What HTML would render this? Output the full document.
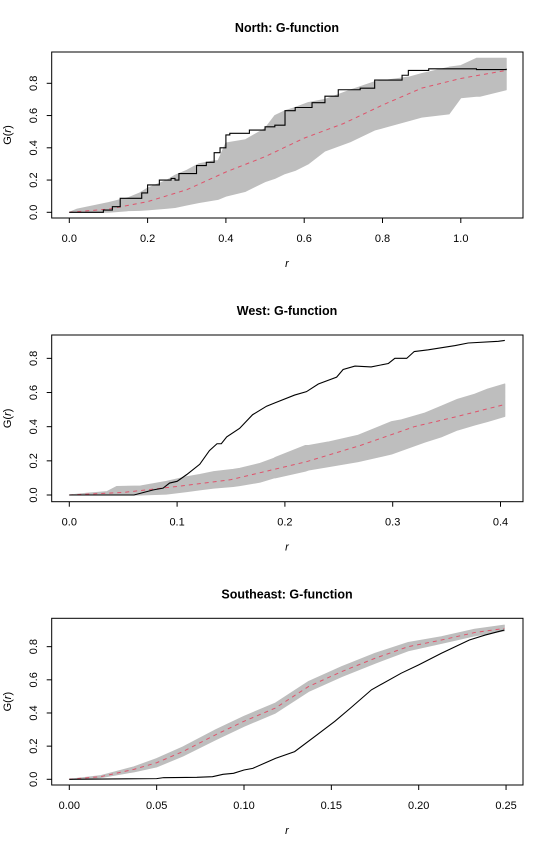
<!DOCTYPE html>
<html><head><meta charset="utf-8"><style>
html,body{margin:0;padding:0;background:#fff;}
svg{display:block;font-family:"Liberation Sans",Arial,sans-serif;}
</style></head><body>
<svg id="chart" width="550" height="850" viewBox="0 0 550 850" xmlns="http://www.w3.org/2000/svg"></svg>
<script>
// ---- North panel data ----
const northObsR = [0,0.087,0.11,0.13,0.17,0.185,0.2,0.22,0.23,0.25,0.26,0.27,0.28,0.31,0.325,0.35,0.37,0.385,0.40,0.41,0.44,0.46,0.47,0.5,0.525,0.551,0.577,0.62,0.653,0.687,0.743,0.78,0.85,0.866,0.918,1.04,1.116];
const northObs  = [0,0.014,0.035,0.087,0.087,0.12,0.17,0.17,0.2,0.2,0.21,0.2,0.24,0.24,0.29,0.31,0.37,0.40,0.48,0.49,0.49,0.51,0.51,0.53,0.54,0.63,0.65,0.68,0.72,0.76,0.77,0.82,0.85,0.88,0.89,0.885,0.89];
const northEnvR = [0,0.02,0.1,0.15,0.18,0.2,0.25,0.27,0.3,0.33,0.37,0.38,0.40,0.45,0.5,0.525,0.551,0.577,0.61,0.653,0.72,0.78,0.87,0.9,0.97,1.0,1.04,1.05,1.116];
const northLo   = [0,0,0,0.01,0.012,0.015,0.025,0.03,0.045,0.06,0.076,0.08,0.1,0.13,0.19,0.21,0.24,0.26,0.3,0.38,0.44,0.51,0.57,0.59,0.61,0.71,0.72,0.72,0.76];
const northHi   = [0,0.02,0.06,0.09,0.12,0.15,0.2,0.23,0.26,0.30,0.32,0.32,0.43,0.45,0.52,0.60,0.63,0.65,0.68,0.70,0.76,0.81,0.84,0.86,0.90,0.91,0.955,0.955,0.955];
const northTheoR = [0,0.1,0.2,0.3,0.4,0.5,0.6,0.7,0.8,0.9,1.0,1.116];
const northTheo  = [0,0.02,0.066,0.14,0.25,0.345,0.46,0.55,0.665,0.77,0.83,0.88];
// ---- West panel data ----
const westObsR = [0,0.06,0.078,0.087,0.093,0.1,0.109,0.121,0.13,0.137,0.141,0.146,0.158,0.17,0.183,0.191,0.209,0.22,0.231,0.248,0.254,0.265,0.28,0.296,0.302,0.313,0.32,0.333,0.358,0.37,0.398,0.404];
const westObs  = [0,0,0.03,0.04,0.07,0.08,0.12,0.18,0.26,0.30,0.30,0.34,0.39,0.47,0.52,0.54,0.585,0.605,0.65,0.69,0.735,0.755,0.75,0.77,0.80,0.80,0.84,0.85,0.875,0.89,0.90,0.905];
const westEnvR = [0,0.016,0.035,0.044,0.066,0.09,0.109,0.121,0.134,0.152,0.158,0.177,0.19,0.191,0.219,0.222,0.24,0.268,0.299,0.308,0.33,0.345,0.36,0.376,0.388,0.404];
const westLo   = [0,0,0,0,0,0.005,0.02,0.03,0.04,0.05,0.055,0.075,0.1,0.1,0.14,0.146,0.165,0.195,0.24,0.26,0.31,0.34,0.38,0.41,0.43,0.46];
const westHi   = [0,0.01,0.02,0.05,0.053,0.08,0.107,0.12,0.137,0.15,0.156,0.185,0.215,0.22,0.29,0.29,0.31,0.35,0.43,0.44,0.48,0.52,0.56,0.59,0.62,0.65];
const westTheoR = [0,0.05,0.1,0.15,0.19,0.22,0.27,0.32,0.36,0.404];
const westTheo  = [0,0.015,0.05,0.09,0.15,0.195,0.29,0.40,0.46,0.53];
// ---- Southeast panel data ----
const seObsR = [0,0.05,0.054,0.073,0.082,0.088,0.094,0.1,0.105,0.118,0.129,0.142,0.152,0.161,0.173,0.19,0.2,0.213,0.229,0.238,0.249];
const seObs  = [0,0.004,0.01,0.012,0.016,0.03,0.036,0.056,0.066,0.126,0.167,0.27,0.35,0.43,0.54,0.64,0.69,0.76,0.84,0.87,0.90];
const seTheoR = [0,0.018,0.037,0.05,0.065,0.084,0.1,0.118,0.137,0.156,0.175,0.194,0.213,0.232,0.249];
const seTheo  = [0,0.016,0.06,0.10,0.167,0.27,0.35,0.43,0.56,0.65,0.73,0.80,0.84,0.885,0.91];
const seLo    = [0,0.01,0.045,0.075,0.14,0.24,0.32,0.40,0.53,0.62,0.70,0.775,0.82,0.865,0.895];
const seHi    = [0,0.022,0.075,0.125,0.195,0.30,0.38,0.46,0.59,0.68,0.76,0.825,0.86,0.905,0.93];

const NS = "http://www.w3.org/2000/svg";
const svg = document.getElementById('chart');
function mk(tag, attrs, parent){
  const e = document.createElementNS(NS, tag);
  for (const k in attrs) e.setAttribute(k, attrs[k]);
  (parent||svg).appendChild(e);
  return e;
}
const panels = [
  {name:'north', title:'North: G-function', top:52, bottom:218, y0:212.3, yu:161.25, x0:69.3, xu:391.5,
   xt:[0,0.2,0.4,0.6,0.8,1.0], xl:['0.0','0.2','0.4','0.6','0.8','1.0'],
   obsR:northObsR, obs:northObs, envR:northEnvR, lo:northLo, hi:northHi, thR:northTheoR, th:northTheo, step:true},
  {name:'west', title:'West: G-function', top:335, bottom:501.7, y0:495, yu:170.8, x0:69.3, xu:1078,
   xt:[0,0.1,0.2,0.3,0.4], xl:['0.0','0.1','0.2','0.3','0.4'],
   obsR:westObsR, obs:westObs, envR:westEnvR, lo:westLo, hi:westHi, thR:westTheoR, th:westTheo, step:false},
  {name:'southeast', title:'Southeast: G-function', top:618.3, bottom:785, y0:779.3, yu:165.8, x0:69.3, xu:1747,
   xt:[0,0.05,0.1,0.15,0.2,0.25], xl:['0.00','0.05','0.10','0.15','0.20','0.25'],
   obsR:seObsR, obs:seObs, envR:seTheoR, lo:seLo, hi:seHi, thR:seTheoR, th:seTheo, step:false}
];
const L = 51.7, R = 523;
panels.forEach(p => {
  const g = mk('g', {});
  
  
  const X = r => p.x0 + r * p.xu;
  const Y = v => p.y0 - v * p.yu;
  // envelope (smooth polygon)
  let pts = [];
  for (let i=0;i<p.envR.length;i++) pts.push([X(p.envR[i]), Y(p.hi[i])]);
  for (let i=p.envR.length-1;i>=0;i--) pts.push([X(p.envR[i]), Y(p.lo[i])]);
  const env = mk('polygon', {points: pts.map(q=>q.join(',')).join(' '), fill:'#bebebe', stroke:'#bebebe', 'stroke-width':'1', 'stroke-linejoin':'round'}, g);
  
  
  // theoretical
  const th = mk('polyline', {points: p.thR.map((r,i)=>X(r)+','+Y(p.th[i])).join(' '), fill:'none', stroke:'#df536b', 'stroke-width':'1', 'stroke-dasharray':'4,4'}, g);
  
  
  // observed
  let op = [];
  for (let i=0;i<p.obsR.length;i++){
    if (p.step && i>0) op.push(X(p.obsR[i])+','+Y(p.obs[i-1]));
    op.push(X(p.obsR[i])+','+Y(p.obs[i]));
  }
  const ob = mk('polyline', {points: op.join(' '), fill:'none', stroke:'#000', 'stroke-width':'1.1'}, g);
  
  
  // box
  const box = mk('rect', {x:L, y:p.top, width:R-L, height:p.bottom-p.top, fill:'none', stroke:'#000', 'stroke-width':'1'}, g);
  
  
  // title
  const t = mk('text', {x:287, y:p.top-20, 'text-anchor':'middle', 'font-size':'12.5', 'font-weight':'bold'}, g);
  t.textContent = p.title;
  
  
  // x ticks
  p.xt.forEach((v,i) => {
    mk('line', {x1:X(v), x2:X(v), y1:p.bottom, y2:p.bottom+5, stroke:'#000'}, g);
    const tl = mk('text', {x:X(v), y:p.bottom+24, 'text-anchor':'middle', 'font-size':'11'}, g);
    tl.textContent = p.xl[i];
    
    
  });
  // y ticks
  [0,0.2,0.4,0.6,0.8].forEach(v => {
    mk('line', {x1:L, x2:L-5, y1:Y(v), y2:Y(v), stroke:'#000'}, g);
    const tl = mk('text', {x:0, y:0, 'text-anchor':'middle', 'font-size':'11', transform:'translate(37,'+Y(v)+') rotate(-90)'}, g);
    tl.textContent = v.toFixed(1);
    
    
  });
  // axis titles
  const xlab = mk('text', {x:287, y:p.bottom+49, 'text-anchor':'middle', 'font-size':'11', 'font-style':'italic'}, g);
  xlab.textContent = 'r';
  
  
  const cy = (p.top+p.bottom)/2;
  const ylab = mk('text', {x:0, y:0, 'text-anchor':'middle', 'font-size':'11', transform:'translate(11,'+cy+') rotate(-90)'}, g);
  ylab.innerHTML = 'G(<tspan font-style="italic">r</tspan>)';
  
  
});
</script>
</body></html>
